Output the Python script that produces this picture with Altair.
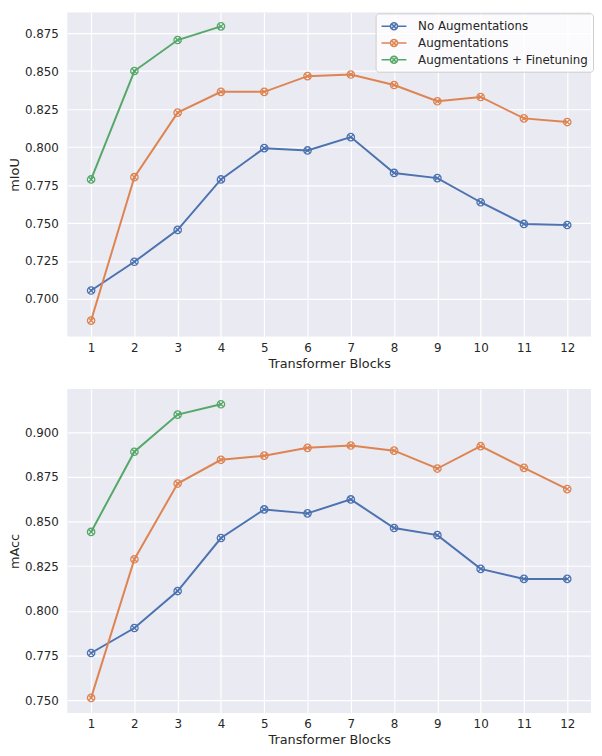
import altair as alt
import pandas as pd

blocks = list(range(1, 13))
series_names = ["No Augmentations", "Augmentations", "Augmentations + Finetuning"]
colors = ["#4c72b0", "#dd8452", "#55a868"]

miou_no_aug = [0.7056, 0.7245, 0.7455, 0.7787, 0.7993, 0.7978, 0.8066, 0.7830, 0.7796, 0.7637, 0.7494, 0.7487]
miou_aug = [0.6858, 0.7802, 0.8227, 0.8364, 0.8364, 0.8467, 0.8478, 0.8409, 0.8302, 0.8330, 0.8189, 0.8165]
miou_aug_ft = [0.7787, 0.8501, 0.8705, 0.8795]

macc_no_aug = [0.7764, 0.7904, 0.8111, 0.8408, 0.8568, 0.8546, 0.8624, 0.8464, 0.8424, 0.8235, 0.8179, 0.8179]
macc_aug = [0.7513, 0.8289, 0.8713, 0.8846, 0.8869, 0.8913, 0.8926, 0.8897, 0.8797, 0.8922, 0.8801, 0.8682]
macc_aug_ft = [0.8442, 0.8891, 0.9099, 0.9157]

miou_ticks = [0.700, 0.725, 0.750, 0.775, 0.800, 0.825, 0.850, 0.875]
macc_ticks = [0.750, 0.775, 0.800, 0.825, 0.850, 0.875, 0.900]


def frame(vals_list):
    rows = []
    for name, vals in zip(series_names, vals_list):
        for b, v in zip(blocks, vals):
            rows.append({"block": b, "value": v, "series": name})
    return pd.DataFrame(rows)


df_miou = frame([miou_no_aug, miou_aug, miou_aug_ft])
df_macc = frame([macc_no_aug, macc_aug, macc_aug_ft])

marker = "M1,0A1,1 0 1,1 -1,0A1,1 0 1,1 1,0M-0.6,-0.6L0.6,0.6M-0.6,0.6L0.6,-0.6"
legend_sym = ("M-1,0L0.3,0M1.3,0L2.6,0M1.3,0A0.5,0.5 0 1,1 0.3,0A0.5,0.5 0 1,1 1.3,0"
              "M0.5,-0.3L1.1,0.3M0.5,0.3L1.1,-0.3")

W, H = 530, 328


def panel(df, ytitle, ydomain, yticks, show_legend):
    color = alt.Color(
        "series:N",
        scale=alt.Scale(domain=series_names, range=colors),
        sort=series_names,
        legend=alt.Legend(
            title=None, orient="none", legendX=W - 218, legendY=1,
            fillColor="rgba(255,255,255,0.8)", strokeColor="#cccccc",
            cornerRadius=3, padding=5, labelFontSize=12, labelColor="#262626",
            labelFont="DejaVu Sans", labelLimit=300, symbolType=legend_sym, symbolSize=196,
            symbolStrokeWidth=1.6, symbolFillColor="transparent", rowPadding=2,
            labelOffset=22,
        ) if show_legend else None,
    )
    x = alt.X("block:Q", title="Transformer Blocks",
              scale=alt.Scale(domain=[0.45, 12.55], nice=False, zero=False),
              axis=alt.Axis(values=blocks, format="d"))
    y = alt.Y("value:Q", title=ytitle,
              scale=alt.Scale(domain=ydomain, nice=False, zero=False),
              axis=alt.Axis(values=yticks, format=".3f"))
    base = alt.Chart(df).encode(x=x, y=y, color=color)
    line = base.mark_line(strokeWidth=2)
    pts = base.mark_point(shape=marker, size=56, filled=False, strokeWidth=1.3, opacity=1)
    return alt.layer(line, pts).properties(width=W, height=H)


top = panel(df_miou, "mIoU", [0.6753, 0.8887], miou_ticks, True)
bottom = panel(df_macc, "mAcc", [0.7428, 0.9243], macc_ticks, False)

chart = alt.vconcat(top, bottom, spacing=19).resolve_scale(
    color="independent"
).resolve_legend(color="independent").configure(
    padding=0, background="white", font="DejaVu Sans"
).configure_view(
    fill="#eaeaf2", stroke=None
).configure_axis(
    grid=True, gridColor="white", gridWidth=1.2, domain=False, ticks=False,
    labelFontSize=12, titleFontSize=13, labelColor="#262626", titleColor="#262626",
    labelFont="DejaVu Sans", titleFont="DejaVu Sans", titleFontWeight="normal",
)
chart = chart.configure_axisY(labelPadding=9, titlePadding=3)
chart = chart.configure_axisX(labelPadding=6, titlePadding=4)

chart.save("out.html", embed_options={"renderer": "svg", "actions": False})
